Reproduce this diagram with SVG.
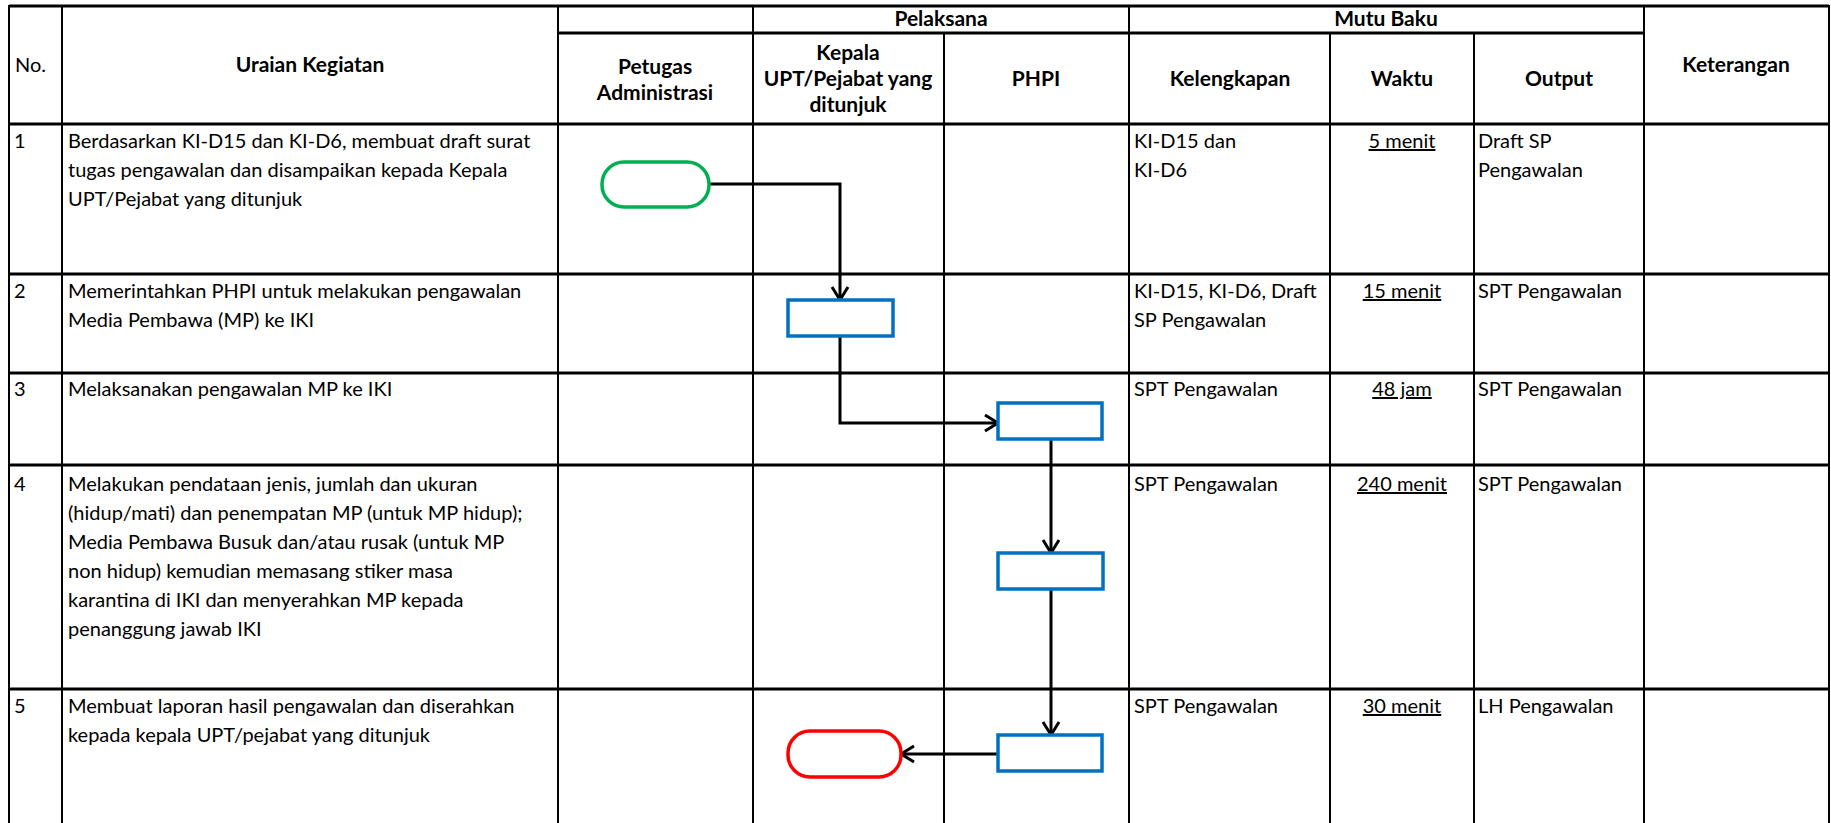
<svg xmlns="http://www.w3.org/2000/svg" width="1831" height="823" viewBox="0 0 1831 823">
<style>
.t{font-family:Lato,"Liberation Sans",sans-serif;font-size:20px;fill:#000}
.b{font-weight:bold;text-anchor:middle;font-size:21px}
.c{text-anchor:middle;text-decoration:underline}
.h{stroke:#000;stroke-width:3}
.v{stroke:#000;stroke-width:2}
.proc{fill:#fff;stroke:#0070C0;stroke-width:3.5}
.start{fill:#fff;stroke:#00B050;stroke-width:3.5}
.end{fill:#fff;stroke:#FF0000;stroke-width:3.5}
.con{fill:none;stroke:#000;stroke-width:3;marker-end:url(#arr)}
</style>
<defs>
<marker id="arr" markerUnits="userSpaceOnUse" markerWidth="18" markerHeight="20" refX="15" refY="10" orient="auto" viewBox="0 0 18 20">
<path d="M2,2 L15,10 L2,18" fill="none" stroke="#000" stroke-width="3"/>
</marker>
</defs>
<rect width="1831" height="823" fill="#fff"/>
<g id="grid">
<line class="h" x1="9" y1="6" x2="1829" y2="6"/>
<line class="h" x1="558" y1="33" x2="1644" y2="33"/>
<line class="h" x1="9" y1="124" x2="1829" y2="124"/>
<line class="h" x1="9" y1="274" x2="1829" y2="274"/>
<line class="h" x1="9" y1="373" x2="1829" y2="373"/>
<line class="h" x1="9" y1="465" x2="1829" y2="465"/>
<line class="h" x1="9" y1="689" x2="1829" y2="689"/>
<line class="v" x1="9" y1="5" x2="9" y2="823"/>
<line class="v" x1="62" y1="5" x2="62" y2="823"/>
<line class="v" x1="558" y1="5" x2="558" y2="823"/>
<line class="v" x1="753" y1="5" x2="753" y2="823"/>
<line class="v" x1="944" y1="33" x2="944" y2="823"/>
<line class="v" x1="1129" y1="5" x2="1129" y2="823"/>
<line class="v" x1="1330" y1="33" x2="1330" y2="823"/>
<line class="v" x1="1474" y1="33" x2="1474" y2="823"/>
<line class="v" x1="1644" y1="5" x2="1644" y2="823"/>
<line class="v" x1="1829" y1="5" x2="1829" y2="823"/>
</g>
<g id="header">
<text class="t" x="15" y="72">No.</text>
<text class="t b" x="310" y="72">Uraian Kegiatan</text>
<text class="t b" x="941" y="26">Pelaksana</text>
<text class="t b" x="1386" y="26">Mutu Baku</text>
<text class="t b" x="655" y="74">Petugas</text>
<text class="t b" x="655" y="100">Administrasi</text>
<text class="t b" x="848" y="60">Kepala</text>
<text class="t b" x="848" y="86">UPT/Pejabat yang</text>
<text class="t b" x="848" y="112">ditunjuk</text>
<text class="t b" x="1036" y="86">PHPI</text>
<text class="t b" x="1230" y="86">Kelengkapan</text>
<text class="t b" x="1402" y="86">Waktu</text>
<text class="t b" x="1559" y="86">Output</text>
<text class="t b" x="1736" y="72">Keterangan</text>
</g>
<g id="row1">
<text class="t" x="14" y="148">1</text>
<text class="t" x="68" y="148">Berdasarkan KI-D15 dan KI-D6, membuat draft surat</text>
<text class="t" x="68" y="177">tugas pengawalan dan disampaikan kepada Kepala</text>
<text class="t" x="68" y="206">UPT/Pejabat yang ditunjuk</text>
<text class="t" x="1134" y="148">KI-D15 dan</text>
<text class="t" x="1134" y="177">KI-D6</text>
<text class="t c" x="1402" y="148">5 menit</text>
<text class="t" x="1478" y="148">Draft SP</text>
<text class="t" x="1478" y="177">Pengawalan</text>
</g>
<g id="row2">
<text class="t" x="14" y="298">2</text>
<text class="t" x="68" y="298">Memerintahkan PHPI untuk melakukan pengawalan</text>
<text class="t" x="68" y="327">Media Pembawa (MP) ke IKI</text>
<text class="t" x="1134" y="298">KI-D15, KI-D6, Draft</text>
<text class="t" x="1134" y="327">SP Pengawalan</text>
<text class="t c" x="1402" y="298">15 menit</text>
<text class="t" x="1478" y="298">SPT Pengawalan</text>
</g>
<g id="row3">
<text class="t" x="14" y="396">3</text>
<text class="t" x="68" y="396">Melaksanakan pengawalan MP ke IKI</text>
<text class="t" x="1134" y="396">SPT Pengawalan</text>
<text class="t c" x="1402" y="396">48 jam</text>
<text class="t" x="1478" y="396">SPT Pengawalan</text>
</g>
<g id="row4">
<text class="t" x="14" y="491">4</text>
<text class="t" x="68" y="491">Melakukan pendataan jenis, jumlah dan ukuran</text>
<text class="t" x="68" y="520">(hidup/mati) dan penempatan MP (untuk MP hidup);</text>
<text class="t" x="68" y="549">Media Pembawa Busuk dan/atau rusak (untuk MP</text>
<text class="t" x="68" y="578">non hidup) kemudian memasang stiker masa</text>
<text class="t" x="68" y="607">karantina di IKI dan menyerahkan MP kepada</text>
<text class="t" x="68" y="636">penanggung jawab IKI</text>
<text class="t" x="1134" y="491">SPT Pengawalan</text>
<text class="t c" x="1402" y="491">240 menit</text>
<text class="t" x="1478" y="491">SPT Pengawalan</text>
</g>
<g id="row5">
<text class="t" x="14" y="713">5</text>
<text class="t" x="68" y="713">Membuat laporan hasil pengawalan dan diserahkan</text>
<text class="t" x="68" y="742">kepada kepala UPT/pejabat yang ditunjuk</text>
<text class="t" x="1134" y="713">SPT Pengawalan</text>
<text class="t c" x="1402" y="713">30 menit</text>
<text class="t" x="1478" y="713">LH Pengawalan</text>
</g>
<g id="connectors">
<path class="con" d="M709,184 H840 V300"/>
<path class="con" d="M840,336 V423 H998"/>
<path class="con" d="M1051,439 V553"/>
<path class="con" d="M1051,589 V735"/>
<path class="con" d="M998,754 H901"/>
</g>
<g id="start"><rect class="start" x="602" y="162" width="107" height="45" rx="22" ry="22"/></g>
<g id="step2"><rect class="proc" x="788" y="300" width="105" height="36"/></g>
<g id="step3"><rect class="proc" x="998" y="403" width="104" height="36"/></g>
<g id="step4"><rect class="proc" x="998" y="553" width="105" height="36"/></g>
<g id="step5"><rect class="proc" x="998" y="735" width="104" height="36"/></g>
<g id="end"><rect class="end" x="788" y="731" width="113" height="46" rx="22" ry="22"/></g>
</svg>
